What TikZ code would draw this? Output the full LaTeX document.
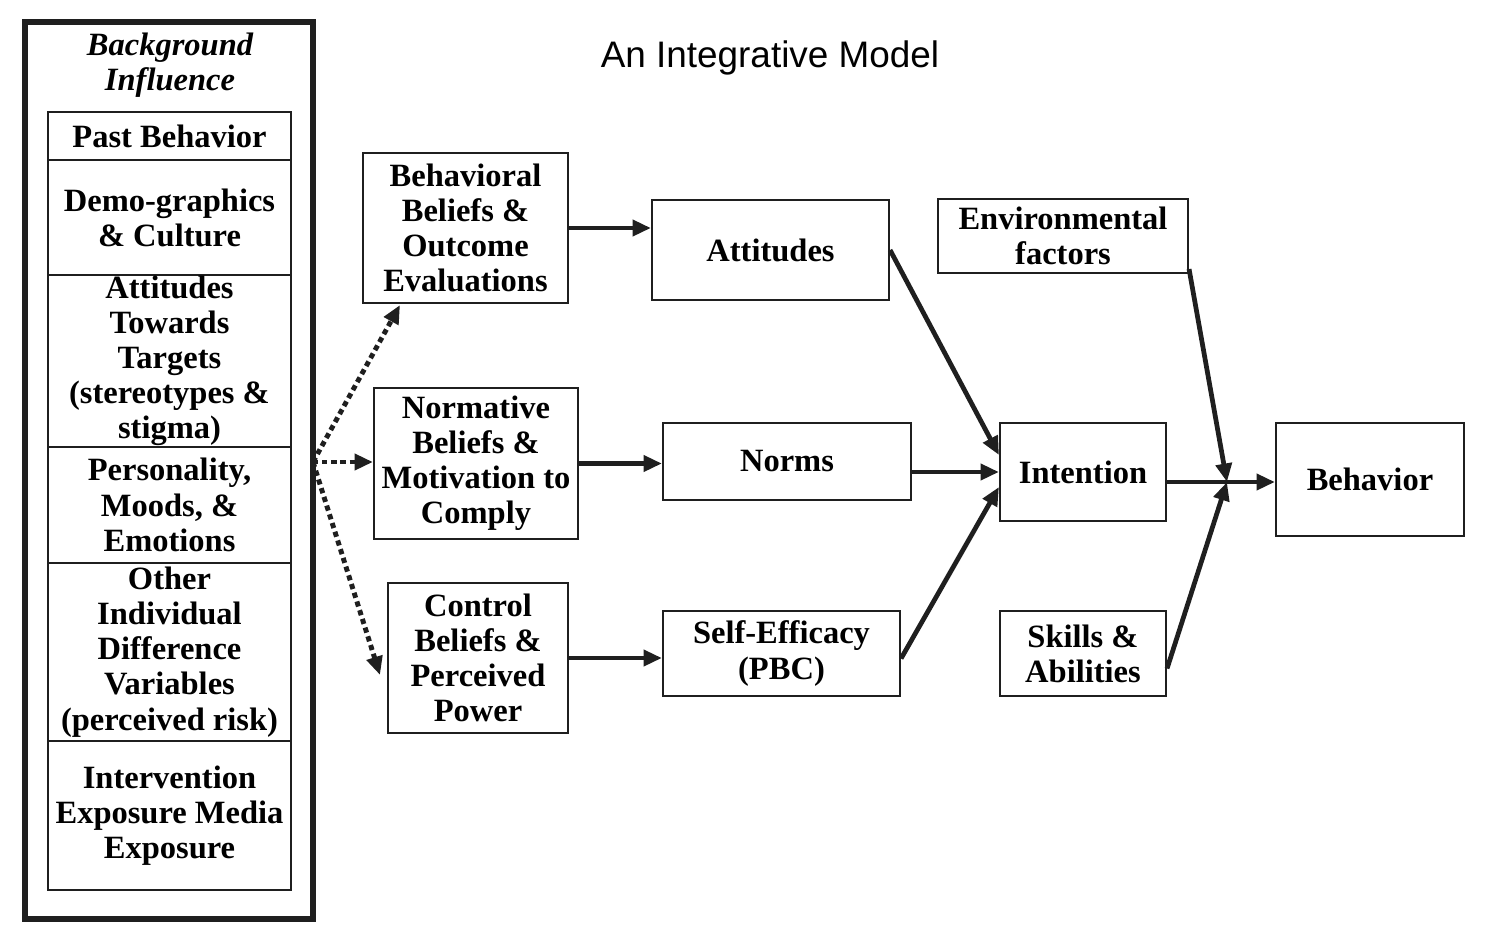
\documentclass[tikz,border=0pt]{standalone}
\usepackage{fontspec}
\setmainfont{Liberation Serif}
\newfontfamily\titlesans{Liberation Sans}
\usetikzlibrary{arrows.meta}
\begin{document}
\begin{tikzpicture}[x=0.02cm,y=-0.02cm]
\tikzset{
 bx/.style={draw=black!88, line width=1.2pt, align=center, inner sep=0pt, font=\bfseries\fontsize{18.5}{20}\selectfont},
 arr/.style={draw=black!88, line width=2.7pt, -{Triangle[length=10.5pt,width=9pt]}},
 darr/.style={draw=black!88, line width=2.8pt, dash pattern=on 3pt off 2.2pt, -{Triangle[length=10.5pt,width=9pt]}}
}
\newcommand\boxnode[6]{\node[bx, minimum width=#4*0.02cm, minimum height=#5*0.02cm] (#1) at (#2,#3) {#6};}
\useasboundingbox (0,0) rectangle (1489,944);
% outer box
\node[draw=black!88, line width=3pt, minimum width=288*0.02cm, minimum height=897*0.02cm, inner sep=0pt] (outer) at (169,470.5) {};
\node[font=\bfseries\itshape\fontsize{18.5}{20}\selectfont, align=center, inner sep=0pt] (bgtitle) at (170,65) {Background\\Influence};
% stack
\boxnode{past}{169.5}{136}{243}{48}{Past Behavior}
\boxnode{demo}{169.5}{217.5}{243}{115}{Demo-graphics\\\& Culture}
\boxnode{atttarg}{169.5}{361}{243}{172}{Attitudes\\Towards\\Targets\\(stereotypes \&\\stigma)}
\boxnode{pers}{169.5}{505}{243}{116}{Personality,\\Moods, \&\\Emotions}
\boxnode{other}{169.5}{652}{243}{178}{Other\\Individual\\Difference\\Variables\\(perceived risk)}
\boxnode{interv}{169.5}{815.5}{243}{149}{Intervention\\Exposure Media\\Exposure}
% title
\node[font=\titlesans\fontsize{21}{24}\selectfont, inner sep=0pt] (title) at (770,58) {An Integrative Model};
% middle
\boxnode{beh}{465.5}{228}{205}{150}{Behavioral\\Beliefs \&\\Outcome\\Evaluations}
\boxnode{attitudes}{770.5}{250}{237}{100}{Attitudes}
\boxnode{norm}{476}{463.5}{204}{151}{Normative\\Beliefs \&\\Motivation to\\Comply}
\boxnode{norms}{787}{461.5}{248}{77}{Norms}
\boxnode{control}{478}{658}{180}{150}{Control\\Beliefs \&\\Perceived\\Power}
\boxnode{self}{781.5}{653.5}{237}{85}{Self-Efficacy\\(PBC)}
\boxnode{env}{1063}{236}{250}{74}{Environmental\\factors}
\boxnode{intention}{1083}{472}{166}{98}{Intention}
\boxnode{skills}{1083}{653.5}{166}{85}{Skills \&\\Abilities}
\boxnode{behavior}{1370}{479.5}{188}{113}{Behavior}
% coordinates
\coordinate (S) at (313,462);
\coordinate (D1) at (400,305);
\coordinate (D3) at (380,675);
\coordinate (J) at (1227,482);
% dotted arrows
\draw[darr] (S) -- (D1);
\draw[darr] (S) -- (norm.west |- S);
\draw[darr] (S) -- (D3);
% solid arrows
\draw[arr] (beh.east) -- (beh.east -| attitudes.west);
\draw[arr] (norm.east) -- (norm.east -| norms.west);
\draw[arr] (control.east) -- (control.east -| self.west);
\draw[arr] (attitudes.east) -- ([yshift=0.34cm]intention.west);
\draw[arr] (norms.east |- intention.west) -- (intention.west);
\draw[arr] ([yshift=-0.1cm]self.east) -- ([yshift=-0.3cm]intention.west);
\draw[arr] (intention.east |- J) -- (behavior.west |- J);
\draw[arr] ([yshift=0.1cm]env.south east) -- (J);
\draw[arr] ([yshift=-0.3cm]skills.east) -- (J);
\end{tikzpicture}
\end{document}
